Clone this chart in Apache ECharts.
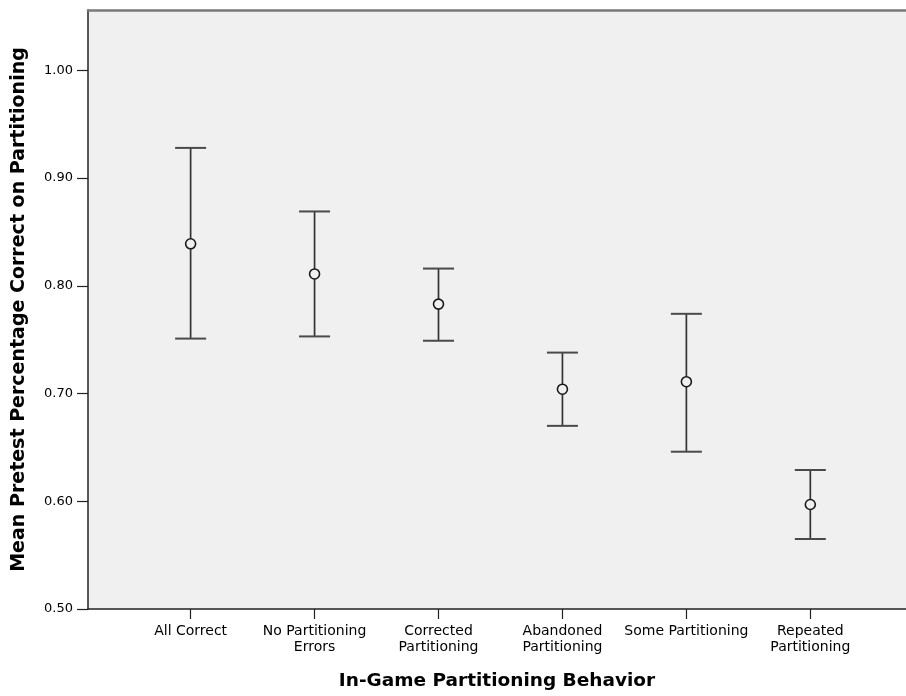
<!DOCTYPE html>
<html>
<head>
<meta charset="utf-8">
<script src="https://cdn.jsdelivr.net/npm/echarts@6/dist/echarts.min.js"></script>
<style>html,body{margin:0;padding:0;background:#fff}#c{width:906px;height:696px}</style>
</head>
<body>
<div id="c"></div>
<script>
const categories = ['All Correct', 'No Partitioning\nErrors', 'Corrected\nPartitioning', 'Abandoned\nPartitioning', 'Some Partitioning', 'Repeated\nPartitioning'];
const means = [0.839, 0.811, 0.783, 0.704, 0.711, 0.597];
const lower = [0.751, 0.753, 0.749, 0.670, 0.646, 0.565];
const upper = [0.928, 0.869, 0.816, 0.738, 0.774, 0.629];
const yTicks = [0.5, 0.6, 0.7, 0.8, 0.9, 1.0];

const positions = categories.map((c, i) => i + 1);
const X_MIN = 0.172, X_MAX = 6.772;
const FONT = 'DejaVu Sans, Liberation Sans, sans-serif';

const chart = echarts.init(document.getElementById('c'));
chart.setOption({
  animation: false,
  grid: {left: 88, top: 10, right: -3, bottom: 87, show: true, backgroundColor: '#f0f0f0', borderWidth: 0},
  xAxis: [{
    type: 'value', min: X_MIN, max: X_MAX, position: 'bottom',
    name: 'In-Game Partitioning Behavior', nameLocation: 'middle', nameGap: 63,
    nameTextStyle: {fontFamily: FONT, fontSize: 18.5, fontWeight: 'bold', color: '#000'},
    axisLine: {show: true, lineStyle: {color: '#222', width: 1.5}},
    axisTick: {show: true, length: 10, customValues: positions, lineStyle: {color: '#222', width: 1.2}},
    axisLabel: {customValues: positions, fontFamily: FONT, fontSize: 14, color: '#000', margin: 14, lineHeight: 16,
      formatter: v => categories[Math.round(v) - 1] || ''},
    splitLine: {show: false}
  }, {
    type: 'value', min: X_MIN, max: X_MAX, position: 'top',
    axisLine: {show: true, lineStyle: {color: '#7a7a7a', width: 2.5}},
    axisTick: {show: false}, axisLabel: {show: false}, splitLine: {show: false}
  }],
  yAxis: {
    type: 'value', min: 0.5, max: 1.056, interval: 0.1,
    name: 'Mean Pretest Percentage Correct on Partitioning', nameLocation: 'middle', nameGap: 59,
    nameTextStyle: {fontFamily: FONT, fontSize: 19, fontWeight: 'bold', color: '#000'},
    axisLine: {show: true, lineStyle: {color: '#222', width: 1.5}},
    axisTick: {show: true, length: 11, lineStyle: {color: '#222', width: 1.2}},
    axisLabel: {fontFamily: FONT, fontSize: 13, color: '#000', margin: 15, showMaxLabel: false,
      formatter: v => yTicks.some(t => Math.abs(t - v) < 1e-6) ? v.toFixed(2) : ''},
    splitLine: {show: false}
  },
  series: [{
    type: 'custom',
    data: positions.map((p, i) => [p, lower[i], upper[i]]),
    renderItem: (params, api) => {
      const x = api.value(0);
      const lo = api.coord([x, api.value(1)]);
      const hi = api.coord([x, api.value(2)]);
      const hw = 15.5;
      return {type: 'group', children: [
        {type: 'line', shape: {x1: lo[0], y1: lo[1], x2: hi[0], y2: hi[1]}, style: {stroke: '#333', lineWidth: 1.7}},
        {type: 'line', shape: {x1: lo[0] - hw, y1: lo[1], x2: lo[0] + hw, y2: lo[1]}, style: {stroke: '#4a4a4a', lineWidth: 2}},
        {type: 'line', shape: {x1: hi[0] - hw, y1: hi[1], x2: hi[0] + hw, y2: hi[1]}, style: {stroke: '#4a4a4a', lineWidth: 2}}
      ]};
    },
    z: 2
  }, {
    type: 'scatter',
    data: positions.map((p, i) => [p, means[i]]),
    symbol: 'circle', symbolSize: 10,
    itemStyle: {color: '#f0f0f0', borderColor: '#1a1a1a', borderWidth: 1.6, opacity: 1},
    z: 3
  }]
});
</script>
</body>
</html>
